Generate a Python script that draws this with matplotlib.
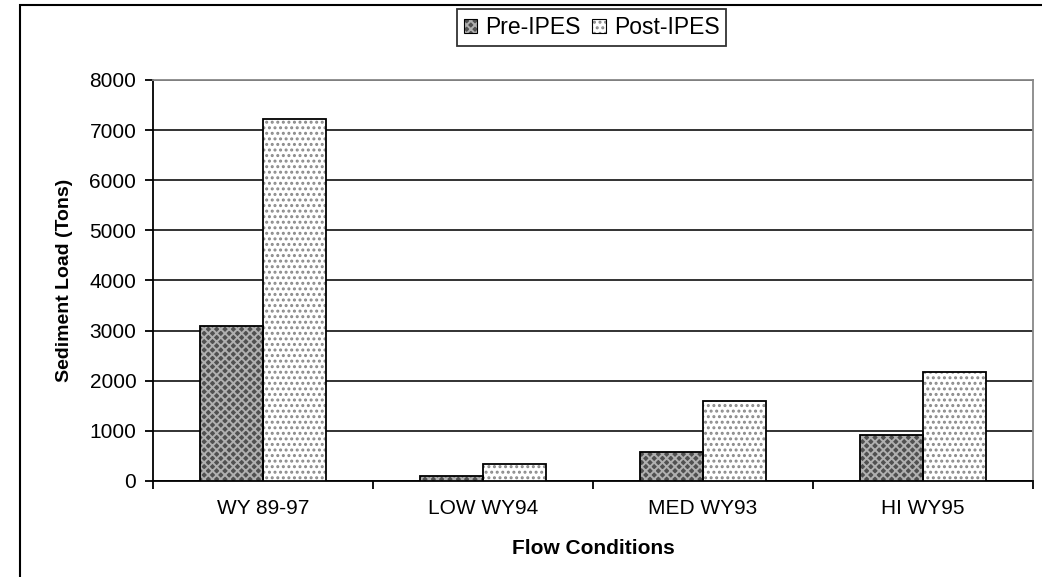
import matplotlib.pyplot as plt
import numpy as np
from matplotlib.patches import Patch, Rectangle

plt.rcParams['font.family'] = ['Liberation Sans', 'DejaVu Sans']

# sediment load by flow condition
categories = ["WY 89-97", "LOW WY94", "MED WY93", "HI WY95"]
pre_ipes = [3100, 100, 580, 920]
post_ipes = [7230, 330, 1600, 2175]

fig = plt.figure(figsize=(10.42, 5.77), dpi=100)
ax = fig.add_axes([0.1468, 0.1664, 0.8446, 0.695])

x = np.arange(len(categories))
w = 0.286

pre_style = dict(facecolor='#505050', edgecolor='#b0b0b0', hatch='xxxx', linewidth=0)
post_style = dict(facecolor='white', edgecolor='#8a8a8a', hatch='...', linewidth=0)

# hatched fill first, black outline drawn on top
plt.rcParams['hatch.linewidth'] = 1.4
ax.bar(x - w / 2, pre_ipes, w, zorder=3, **pre_style)
ax.bar(x + w / 2, post_ipes, w, zorder=3, **post_style)
ax.bar(x - w / 2, pre_ipes, w, fill=False, edgecolor='black', linewidth=1.3, zorder=4)
ax.bar(x + w / 2, post_ipes, w, fill=False, edgecolor='black', linewidth=1.3, zorder=4)

ax.set_xlim(-0.5, len(categories) - 0.5)
ax.set_ylim(0, 8000)
ax.set_yticks(range(0, 8001, 1000))
ax.yaxis.grid(True, color='#222222', linewidth=1.3)
ax.set_axisbelow(True)

# tick marks between groups, labels under each group
ax.set_xticks(np.arange(-0.5, len(categories), 1.0))
ax.set_xticklabels([])
ax.set_xticks(x, minor=True)
ax.set_xticklabels(categories, minor=True)
ax.tick_params(axis='x', which='minor', length=0, pad=13, labelsize=15)
ax.tick_params(axis='x', which='major', length=6, width=1.3, direction='out')
ax.tick_params(axis='y', length=6, width=1.3, direction='out', labelsize=15, pad=6)

for side in ['top', 'right']:
    ax.spines[side].set_color('#888888')
    ax.spines[side].set_linewidth(1.3)
for side in ['left', 'bottom']:
    ax.spines[side].set_linewidth(1.3)

ax.set_ylabel("Sediment Load (Tons)", fontsize=14, fontweight='bold', labelpad=12)
ax.set_xlabel("Flow Conditions", fontsize=15, fontweight='bold', labelpad=15)

outline = dict(fill=False, edgecolor='black', linewidth=0.8)
handles = [(Patch(**pre_style), Patch(**outline)),
           (Patch(**post_style), Patch(**outline))]
leg = fig.legend(handles, ["Pre-IPES", "Post-IPES"], loc='center', bbox_to_anchor=(0.5677, 0.952),
                 ncol=2, fontsize=16.5, frameon=True, fancybox=False, handlelength=0.6, handleheight=0.6,
                 handletextpad=0.35, columnspacing=0.5, borderpad=0.3)
leg.get_frame().set_edgecolor('black')
leg.get_frame().set_linewidth(1.3)

# outer chart frame
fig.patches.append(Rectangle((20 / 1042, -0.1), 1.2, 1 - 5 / 577 + 0.1, transform=fig.transFigure,
                             fill=False, edgecolor='black', linewidth=1.5, clip_on=False))

fig.savefig("out.png", dpi=100)
